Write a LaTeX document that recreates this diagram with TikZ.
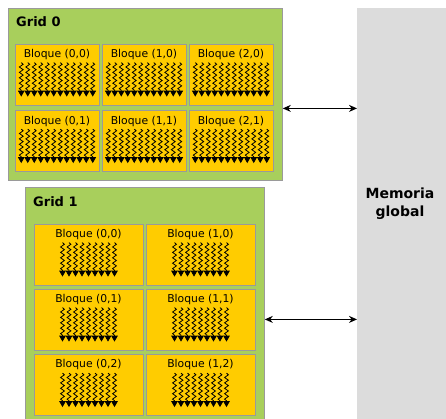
\documentclass[tikz,border=0pt]{standalone}
\usepackage{fontspec}
\setmainfont{DejaVu Sans}
\usetikzlibrary{arrows.meta,decorations.pathmorphing}

\definecolor{gridgreen}{HTML}{A8CF5C}
\definecolor{blockyellow}{HTML}{FFCC00}
\definecolor{memgray}{HTML}{DCDCDC}
\definecolor{edgegray}{HTML}{9A9A9A}

\tikzset{
  gridbox/.style={draw=edgegray,fill=gridgreen,line width=0.8pt,anchor=north west,inner sep=0pt},
  blockbox/.style={draw=edgegray,fill=blockyellow,line width=0.8pt,inner sep=0pt,minimum height=61pt},
  blocklabel/.style={font=\fontsize{10.8}{12}\selectfont,anchor=base,inner sep=0pt},
  gridtitle/.style={font=\bfseries\fontsize{13}{15}\selectfont,anchor=west,inner sep=0pt},
  thread/.style={decorate,decoration={snake,amplitude=1.9pt,segment length=5.4pt,post length=5pt},
                 -{Triangle[width=6.6pt,length=6pt]},line width=0.8pt},
  link/.style={{Stealth[length=8pt,width=7pt]}-{Stealth[length=8pt,width=7pt]},line width=1.1pt},
}

% threads of one block: node name, number of threads
\newcommand{\threads}[2]{%
  \pgfmathsetmacro{\halfn}{(#2-1)/2}
  \foreach \i in {1,...,#2}
    \draw[thread] ([xshift={(\i-1-\halfn)*6.5pt},yshift=-19pt]#1.north) -- ++(0,34);
}

\begin{document}
\begin{tikzpicture}[x=1pt,y=-1pt,>=latex]
    \useasboundingbox (0,0) rectangle (446,418);
    \clip (0,0) rectangle (446,418);

    % global memory
    \node[fill=memgray,anchor=north west,inner sep=0pt,minimum width=89pt,minimum height=415pt] (mem) at (357,8) {};
    \node[font=\bfseries\fontsize{14}{18}\selectfont,align=center] (memtext) at (400,204) {Memoria\\global};

    % grid 0
    \node[gridbox,minimum width=274pt,minimum height=172pt] (grid0) at (8,8) {};
    \node[gridtitle] (grid0t) at (16,22) {Grid 0};
    \foreach \c/\x in {0/57,1/144,2/231}
      \foreach \r/\y in {0/74.5,1/141} {
        \node[blockbox,minimum width=84pt] (a\c\r) at (\x,\y) {};
        \node[blocklabel] (a\c\r t) at ([yshift=-14pt]a\c\r.north) {Bloque (\c,\r)};
        \threads{a\c\r}{12}
      }

    % grid 1
    \node[gridbox,minimum width=239pt,minimum height=250pt] (grid1) at (25,187) {};
    \node[gridtitle] (grid1t) at (33,202) {Grid 1};
    \foreach \c/\x in {0/88.5,1/200.5}
      \foreach \r/\y in {0/254.5,1/319.5,2/385} {
        \node[blockbox,minimum width=109pt] (g\c\r) at (\x,\y) {};
        \node[blocklabel] (g\c\r t) at ([yshift=-13.5pt]g\c\r.north) {Bloque (\c,\r)};
        \threads{g\c\r}{9}
      }

    % links to memory
    \draw[link] ([yshift=-14pt]grid0.east) -- ([yshift=-14pt]grid0.east -| mem.west);
    \draw[link] ([yshift=-7pt]grid1.east) -- ([yshift=-7pt]grid1.east -| mem.west);
\end{tikzpicture}
\end{document}
